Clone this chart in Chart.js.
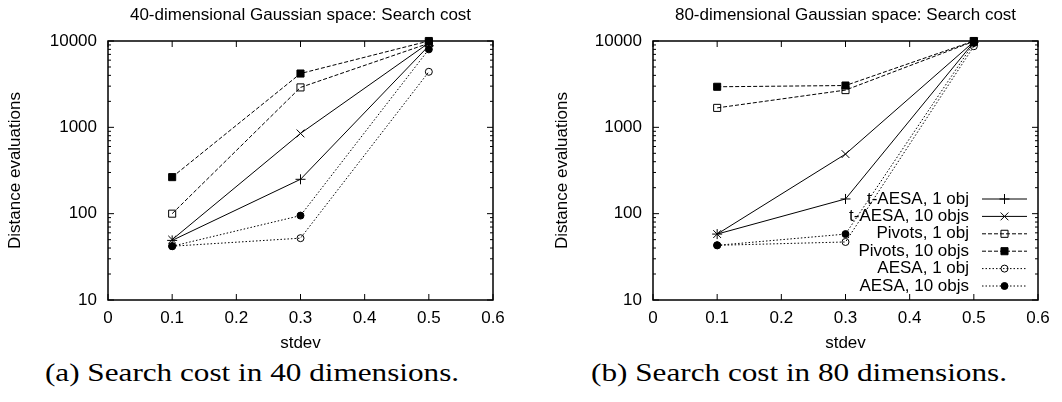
<!DOCTYPE html>
<html>
<head>
<meta charset="utf-8">
<script src="https://cdn.jsdelivr.net/npm/chart.js@4.4.1/dist/chart.umd.min.js"></script>
<style>
  body { margin: 0; background: #fff; width: 1062px; height: 402px; position: relative; overflow: hidden; }
  canvas { position: absolute; top: 0; }
  #chart40 { left: 0; }
  #chart80 { left: 531px; }
  .caption {
    position: absolute; top: 360px; width: 600px; text-align: center;
    font-family: "Liberation Serif", serif; font-size: 26px; line-height: 26px; color: #000;
    transform: scaleX(1.2); transform-origin: center;
  }
</style>
</head>
<body>
<canvas id="chart40" width="531" height="355"></canvas>
<canvas id="chart80" width="531" height="355"></canvas>
<div class="caption" style="left:-48px">(a) Search cost in 40 dimensions.</div>
<div class="caption" style="left:499px">(b) Search cost in 80 dimensions.</div>
<script>
const stdev = [0.1, 0.3, 0.5];
const xTicks = [0, 0.1, 0.2, 0.3, 0.4, 0.5, 0.6];
const yTicks = [10, 100, 1000, 10000];
const seriesLabels = [
  "t-AESA, 1 obj",
  "t-AESA, 10 objs",
  "Pivots, 1 obj",
  "Pivots, 10 objs",
  "AESA, 1 obj",
  "AESA, 10 objs",
];

// 40 dimensions
const tAesa1_40 = [49, 250, 8800];
const tAesa10_40 = [50, 850, 9500];
const pivots1_40 = [100, 2900, 9400];
const pivots10_40 = [265, 4200, 10000];
const aesa1_40 = [42, 52, 4400];
const aesa10_40 = [42, 95, 8000];

// 80 dimensions
const tAesa1_80 = [58, 148, 9700];
const tAesa10_80 = [58, 490, 9800];
const pivots1_80 = [1680, 2700, 9900];
const pivots10_80 = [2950, 3050, 10000];
const aesa1_80 = [43, 47, 8700];
const aesa10_80 = [43, 58, 9500];

const FONT = '"Liberation Sans", Arial, sans-serif';
Chart.defaults.font.family = FONT;
Chart.defaults.font.size = 17;
Chart.defaults.color = "#000";

const seriesStyles = [
  { pointStyle: "cross", pointRadius: 5, borderDash: [], fill: "rgba(0,0,0,0)" },
  { pointStyle: "crossRot", pointRadius: 5.5, borderDash: [], fill: "rgba(0,0,0,0)" },
  { pointStyle: "rect", pointRadius: 5, borderDash: [4, 2], fill: "rgba(0,0,0,0)" },
  { pointStyle: "rect", pointRadius: 5, borderDash: [4, 2], fill: "#000" },
  { pointStyle: "circle", pointRadius: 3.5, borderDash: [1.5, 2], fill: "rgba(0,0,0,0)" },
  { pointStyle: "circle", pointRadius: 3.5, borderDash: [1.5, 2], fill: "#000" },
];

function makeDatasets(seriesValues) {
  return seriesValues.map((values, i) => {
    const st = seriesStyles[i];
    return {
      label: seriesLabels[i],
      data: stdev.map((x, j) => ({ x, y: values[j] })),
      borderColor: "#000",
      borderWidth: 1,
      borderDash: st.borderDash,
      pointStyle: st.pointStyle,
      pointRadius: st.pointRadius,
      pointBorderWidth: 1,
      pointBorderColor: "#000",
      pointBackgroundColor: st.fill,
      tension: 0,
      clip: false,
    };
  });
}

// gnuplot style frame with inward ticks (mirrored on all sides)
const frameTicks = {
  id: "frameTicks",
  beforeDatasetsDraw(chart) {
    const { ctx, chartArea: a } = chart;
    const x = chart.scales.x;
    const y = chart.scales.y;
    ctx.save();
    ctx.strokeStyle = "#000";
    ctx.lineWidth = 1;
    ctx.beginPath();
    for (const v of xTicks) {
      const px = x.getPixelForValue(v);
      ctx.moveTo(px, a.bottom);
      ctx.lineTo(px, a.bottom - 6);
      ctx.moveTo(px, a.top);
      ctx.lineTo(px, a.top + 6);
    }
    for (const d of yTicks) {
      const py = y.getPixelForValue(d);
      ctx.moveTo(a.left, py);
      ctx.lineTo(a.left + 6, py);
      ctx.moveTo(a.right, py);
      ctx.lineTo(a.right - 6, py);
      if (d === yTicks[yTicks.length - 1]) continue;
      for (let m = 2; m <= 9; m++) {
        const pm = y.getPixelForValue(d * m);
        ctx.moveTo(a.left, pm);
        ctx.lineTo(a.left + 3, pm);
        ctx.moveTo(a.right, pm);
        ctx.lineTo(a.right - 3, pm);
      }
    }
    ctx.stroke();
    ctx.lineWidth = 1.5;
    ctx.strokeRect(a.left, a.top, a.right - a.left, a.bottom - a.top);
    ctx.restore();
  },
};

// gnuplot key: right aligned text, sample line with marker on the right
const keyLegend = {
  id: "keyLegend",
  afterDatasetsDraw(chart) {
    const { ctx, chartArea: a } = chart;
    ctx.save();
    ctx.font = "17px " + FONT;
    ctx.textAlign = "right";
    ctx.textBaseline = "middle";
    chart.data.datasets.forEach((ds, i) => {
      const yy = a.top + 158 + i * 17.4;
      ctx.fillStyle = "#000";
      ctx.fillText(ds.label, a.right - 69, yy);
      ctx.strokeStyle = "#000";
      ctx.lineWidth = 1;
      ctx.setLineDash(ds.borderDash);
      ctx.beginPath();
      ctx.moveTo(a.right - 56, yy);
      ctx.lineTo(a.right - 11, yy);
      ctx.stroke();
      ctx.setLineDash([]);
      ctx.fillStyle = ds.pointBackgroundColor;
      Chart.helpers.drawPoint(ctx, {
        pointStyle: ds.pointStyle,
        radius: ds.pointRadius,
        rotation: 0,
        borderWidth: 1,
      }, a.right - 33.5, yy);
    });
    ctx.restore();
  },
};

function makeChart(canvasId, title, seriesValues, yWidth, yTitlePad, extraPlugins) {
  return new Chart(document.getElementById(canvasId), {
    type: "line",
    data: { datasets: makeDatasets(seriesValues) },
    plugins: [frameTicks, ...extraPlugins],
    options: {
      responsive: false,
      animation: false,
      layout: { padding: { left: 0, right: canvasId === "chart40" ? 38 : 24, top: 0, bottom: 0 } },
      plugins: {
        legend: { display: false },
        tooltip: { enabled: false },
        title: {
          display: true,
          text: title,
          fullSize: false,
          color: "#000",
          font: { size: 17, weight: "normal" },
          padding: { top: 5, bottom: 15.6 },
        },
      },
      scales: {
        x: {
          type: "linear",
          min: 0,
          max: 0.6,
          afterBuildTicks: (s) => { s.ticks = xTicks.map((v) => ({ value: v })); },
          afterFit: (s) => { s.height = 55; },
          grid: { display: false, drawTicks: false },
          border: { display: false },
          ticks: {
            autoSkip: false,
            maxRotation: 0,
            padding: 8,
            color: "#000",
            callback: (v) => (v === 0 ? "0" : Number(v).toFixed(1)),
          },
          title: { display: true, text: "stdev", color: "#000", padding: { top: 0, bottom: 1.8 } },
        },
        y: {
          type: "logarithmic",
          min: 10,
          max: 10000,
          afterBuildTicks: (s) => { s.ticks = yTicks.map((v) => ({ value: v })); },
          afterFit: (s) => { s.width = yWidth; },
          grid: { display: false, drawTicks: false },
          border: { display: false },
          ticks: {
            autoSkip: false,
            padding: 11,
            color: "#000",
            callback: (v) => String(v),
          },
          title: {
            display: true,
            text: "Distance evaluations",
            color: "#000",
            padding: { top: yTitlePad, bottom: 0 },
          },
        },
      },
    },
  });
}

makeChart("chart40", "40-dimensional Gaussian space: Search cost",
  [tAesa1_40, tAesa10_40, pivots1_40, pivots10_40, aesa1_40, aesa10_40], 108, 4.8, []);
makeChart("chart80", "80-dimensional Gaussian space: Search cost",
  [tAesa1_80, tAesa10_80, pivots1_80, pivots10_80, aesa1_80, aesa10_80], 122, 20.8, [keyLegend]);
</script>
</body>
</html>
